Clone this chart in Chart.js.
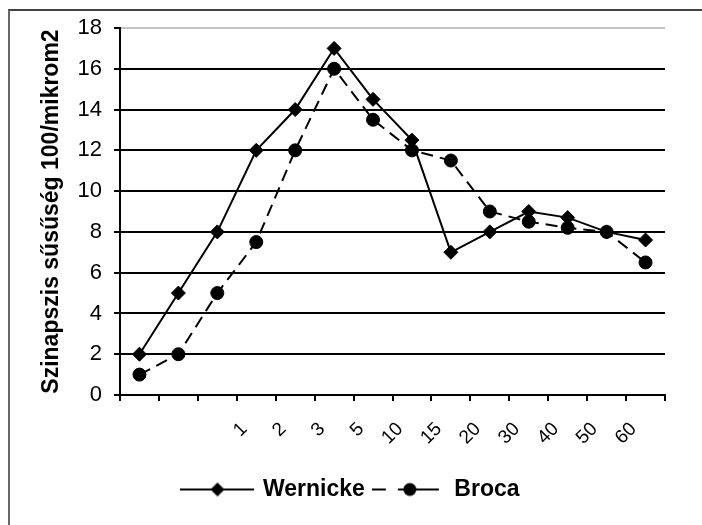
<!DOCTYPE html>
<html>
<head>
<meta charset="utf-8">
<script src="https://cdn.jsdelivr.net/npm/chart.js@4/dist/chart.umd.min.js"></script>
<style>
  html, body { margin: 0; padding: 0; background: #fff; }
  #wrap { position: relative; width: 702px; height: 525px; overflow: hidden; }
  #frame { position: absolute; left: 8px; top: 9px; width: 700px; height: 520px;
           border-top: 2px solid #444; border-left: 2px solid #666; box-sizing: border-box; }
  canvas { position: absolute; left: 0; top: 0; }
</style>
</head>
<body>
<div id="wrap">
  <div id="frame"></div>
  <canvas id="c" width="702" height="525"></canvas>
</div>
<script>
// ---- data ----
const categories = ['', '', '', '1', '2', '3', '5', '10', '15', '20', '30', '40', '50', '60'];
const wernicke = [2, 5, 8, 12, 14, 17, 14.5, 12.5, 7, 8, 9, 8.7, 8, 7.6];
const broca = [1, 2, 5, 7.5, 12, 16, 13.5, 12, 11.5, 9, 8.5, 8.2, 8, 6.5];
const seriesNames = ['Wernicke', 'Broca'];
const yMin = 0, yMax = 18, yStep = 2;
const yTitle = 'Szinapszis sűsűség 100/mikrom2';

const FONT = "'Liberation Sans', Arial, sans-serif";
const DASH = [12, 7];

// legend symbols (line + marker)
function legendSymbol(kind) {
  const c = document.createElement('canvas');
  c.width = 74; c.height = 18;
  const g = c.getContext('2d');
  g.strokeStyle = '#000'; g.fillStyle = '#000'; g.lineWidth = 2;
  const cy = 9;
  if (kind === 'diamond') {
    g.beginPath(); g.moveTo(0, cy); g.lineTo(74, cy); g.stroke();
    const cx = 37, r = 7;
    g.beginPath(); g.moveTo(cx - r, cy); g.lineTo(cx, cy - r); g.lineTo(cx + r, cy); g.lineTo(cx, cy + r); g.closePath(); g.fill();
  } else {
    g.beginPath();
    g.moveTo(0, cy); g.lineTo(14, cy);
    g.moveTo(26, cy); g.lineTo(33, cy);
    g.moveTo(44, cy); g.lineTo(67, cy);
    g.stroke();
    g.beginPath(); g.arc(38, cy, 6.5, 0, Math.PI * 2); g.fill();
  }
  return c;
}
const legendImgs = [legendSymbol('diamond'), legendSymbol('circle')];

new Chart(document.getElementById('c'), {
  type: 'line',
  data: {
    labels: categories,
    datasets: [
      {
        label: seriesNames[0], data: wernicke,
        borderColor: '#000', backgroundColor: '#000', borderWidth: 2,
        pointStyle: 'rectRot', pointRadius: 7, pointHoverRadius: 7,
        pointBackgroundColor: '#000', pointBorderColor: '#000', pointBorderWidth: 1,
        tension: 0, fill: false
      },
      {
        label: seriesNames[1], data: broca,
        borderColor: '#000', backgroundColor: '#000', borderWidth: 2, borderDash: DASH,
        pointStyle: 'circle', pointRadius: 6.5, pointHoverRadius: 6.5,
        pointBackgroundColor: '#000', pointBorderColor: '#000', pointBorderWidth: 1,
        tension: 0, fill: false
      }
    ]
  },
  options: {
    responsive: false,
    devicePixelRatio: 1,
    animation: false,
    layout: { padding: { left: 38, right: 37, top: 28, bottom: 14 } },
    plugins: {
      tooltip: { enabled: false },
      legend: {
        position: 'bottom',
        labels: {
          usePointStyle: true,
          pointStyleWidth: 68,
          padding: 10,
          color: '#000',
          font: { family: FONT, size: 23, weight: 'bold' },
          generateLabels(chart) {
            const items = Chart.defaults.plugins.legend.labels.generateLabels(chart);
            items.forEach((it, i) => { it.pointStyle = legendImgs[i]; });
            return items;
          }
        }
      }
    },
    scales: {
      x: {
        type: 'category',
        offset: true,
        afterFit(scale) { scale.height = 73; },
        border: { display: true, color: '#000', width: 2 },
        grid: { display: true, drawOnChartArea: false, drawTicks: true, tickLength: 6, offset: true, color: '#000', lineWidth: 2 },
        ticks: {
          autoSkip: false, minRotation: 45, maxRotation: 45,
          labelOffset: -12, padding: 17,
          color: '#000', font: { family: FONT, size: 19 }
        }
      },
      y: {
        min: yMin, max: yMax,
        afterFit(scale) { scale.width = 82; },
        border: { display: true, color: '#000', width: 2 },
        grid: {
          drawTicks: true, tickLength: 6, tickColor: '#000', lineWidth: 2,
          color: ctx => (ctx.tick && ctx.tick.value === yMax) ? '#c4c4c4' : '#000'
        },
        ticks: {
          stepSize: yStep, padding: 12, color: '#000',
          font: { family: FONT, size: 22 }
        },
        title: {
          display: true, text: yTitle, color: '#000', padding: { top: 0, bottom: 0 },
          font: { family: FONT, size: 23, weight: 'bold' }
        }
      }
    }
  }
});
</script>
</body>
</html>
